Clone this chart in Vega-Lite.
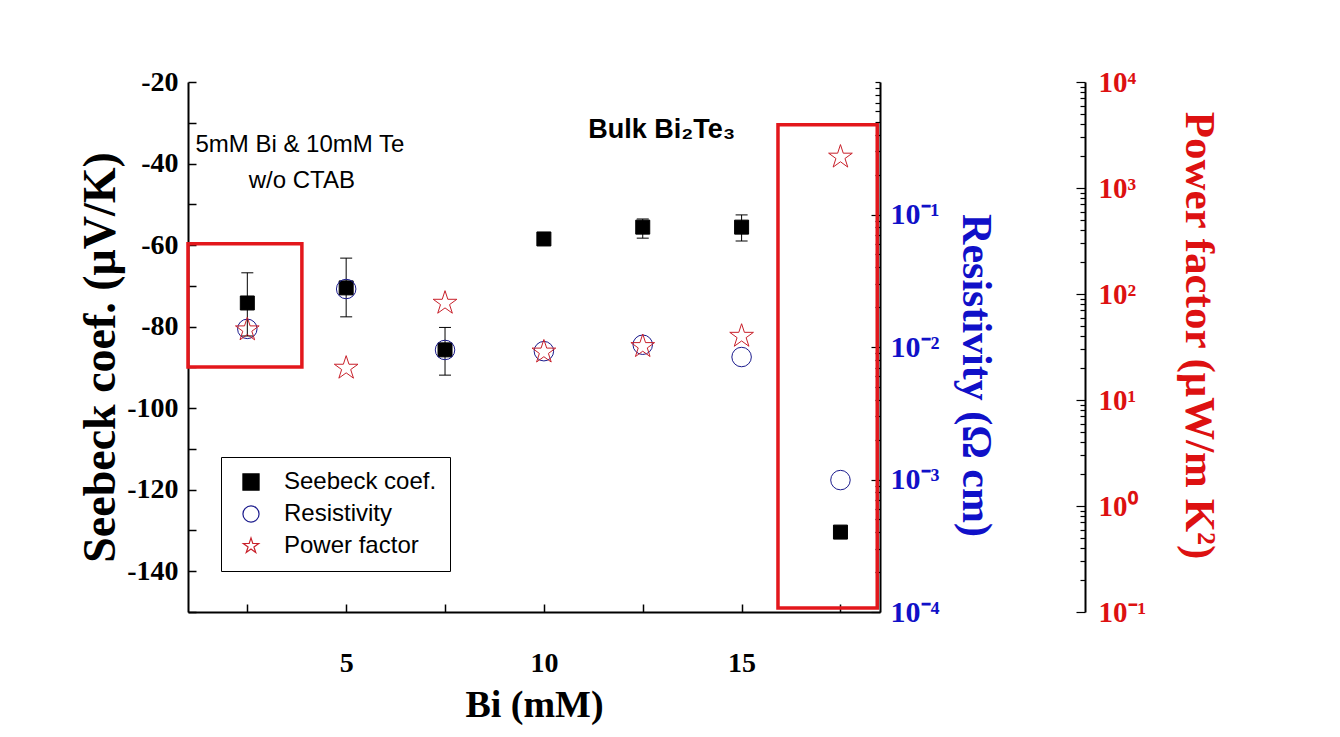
{
  "$schema": "https://vega.github.io/schema/vega-lite/v6.json",
  "width": 692,
  "height": 530,
  "autosize": {"type": "none"},
  "padding": {"left": 188, "top": 82, "right": 460, "bottom": 125},
  "background": "white",
  "config": {"view": {"stroke": null}, "axis": {"grid": false}},
  "datasets": {
    "main": [
      {"x": 2.5, "S": -74.2, "Slo": -82.3, "Shi": -66.8, "rho": 0.0137, "pf": 46},
      {"x": 5, "S": -70.5, "Slo": -77.6, "Shi": -63.2, "rho": 0.0274, "pf": 20},
      {"x": 7.5, "S": -85.7, "Slo": -91.9, "Shi": -80.2, "rho": 0.0095, "pf": 82},
      {"x": 10, "S": -58.5, "Slo": null, "Shi": null, "rho": 0.0093, "pf": 28.4},
      {"x": 12.5, "S": -55.6, "Slo": -58.3, "Shi": -53.6, "rho": 0.0104, "pf": 32},
      {"x": 15, "S": -55.6, "Slo": -59.0, "Shi": -52.6, "rho": 0.0084, "pf": 40},
      {"x": 17.5, "S": -130.4, "Slo": null, "Shi": null, "rho": 0.00099, "pf": 1960}
    ],
    "boxes": [
      {"x1": 1, "x2": 3.88, "y1": -59.7, "y2": -89.9},
      {"x1": 15.92, "x2": 18.43, "y1": -30.5, "y2": -149}
    ],
    "note1": [
      {"x": 3.83, "y": -35.5, "label": "5mM Bi & 10mM Te"},
      {"x": 3.88, "y": -44.3, "label": "w/o CTAB"}
    ],
    "note2": [
      {"x": 11.12, "y": -31.8, "label": "Bulk Bi₂Te₃"}
    ]
  },
  "data": {"name": "main"},
  "layer": [
    {
      "layer": [
        {
          "data": {"name": "boxes"},
          "mark": {"type": "rect", "fill": "transparent", "stroke": "#E3171C", "strokeWidth": 3.5},
          "encoding": {
            "x": {"field": "x1", "type": "quantitative", "title": "Bi (mM)", "scale": {"domain": [1, 18.5], "nice": false, "zero": false}},
            "x2": {"field": "x2"},
            "y": {"field": "y1", "type": "quantitative", "title": "Seebeck coef. (μV/K)", "scale": {"domain": [-150, -20], "nice": false, "zero": false}},
            "y2": {"field": "y2"}
          }
        },
        {
          "data": {"name": "note1"},
          "mark": {"type": "text", "font": "Liberation Sans", "fontSize": 24, "align": "center", "baseline": "middle", "color": "black"},
          "encoding": {
            "x": {"field": "x", "type": "quantitative", "title": "Bi (mM)", "scale": {"domain": [1, 18.5], "nice": false, "zero": false}},
            "y": {"field": "y", "type": "quantitative", "title": "Seebeck coef. (μV/K)", "scale": {"domain": [-150, -20], "nice": false, "zero": false}},
            "text": {"field": "label"}
          }
        },
        {
          "data": {"name": "note2"},
          "mark": {"type": "text", "font": "Liberation Sans", "fontWeight": "bold", "fontSize": 27, "align": "left", "baseline": "middle", "color": "black"},
          "encoding": {
            "x": {"field": "x", "type": "quantitative", "title": "Bi (mM)", "scale": {"domain": [1, 18.5], "nice": false, "zero": false}},
            "y": {"field": "y", "type": "quantitative", "title": "Seebeck coef. (μV/K)", "scale": {"domain": [-150, -20], "nice": false, "zero": false}},
            "text": {"field": "label"}
          }
        },
        {
          "mark": {"type": "rule", "color": "black", "strokeWidth": 1},
          "encoding": {
            "x": {"field": "x", "type": "quantitative", "title": "Bi (mM)", "scale": {"domain": [1, 18.5], "nice": false, "zero": false}},
            "y": {"field": "Slo", "type": "quantitative", "title": "Seebeck coef. (μV/K)", "scale": {"domain": [-150, -20], "nice": false, "zero": false}},
            "y2": {"field": "Shi"}
          }
        },
        {
          "mark": {"type": "tick", "orient": "horizontal", "size": 12, "thickness": 1, "color": "black", "opacity": 1},
          "encoding": {
            "x": {"field": "x", "type": "quantitative", "title": "Bi (mM)", "scale": {"domain": [1, 18.5], "nice": false, "zero": false}},
            "y": {"field": "Slo", "type": "quantitative", "title": "Seebeck coef. (μV/K)", "scale": {"domain": [-150, -20], "nice": false, "zero": false}}
          }
        },
        {
          "mark": {"type": "tick", "orient": "horizontal", "size": 12, "thickness": 1, "color": "black", "opacity": 1},
          "encoding": {
            "x": {"field": "x", "type": "quantitative", "title": "Bi (mM)", "scale": {"domain": [1, 18.5], "nice": false, "zero": false}},
            "y": {"field": "Shi", "type": "quantitative", "title": "Seebeck coef. (μV/K)", "scale": {"domain": [-150, -20], "nice": false, "zero": false}}
          }
        },
        {
          "mark": {"type": "point", "size": 196, "opacity": 1, "strokeWidth": 1},
          "encoding": {
            "x": {
              "field": "x", "type": "quantitative", "title": "Bi (mM)",
              "scale": {"domain": [1, 18.5], "nice": false, "zero": false},
              "axis": {
                "orient": "bottom",
                "values": [2.5, 5, 7.5, 10, 12.5, 15, 17.5],
                "labelExpr": "datum.value % 5 === 0 ? '' + datum.value : ''",
                "tickSize": -8, "tickWidth": 1.5, "tickColor": "black",
                "domainColor": "black", "domainWidth": 2,
                "labelFont": "Liberation Serif", "labelFontWeight": "bold", "labelFontSize": 28, "labelColor": "black",
                "labelPadding": 45, "labelFlush": false, "labelOverlap": false,
                "titleFont": "Liberation Serif", "titleFontWeight": "bold", "titleFontSize": 38, "titleColor": "black",
                "titlePadding": 9
              }
            },
            "y": {
              "field": "S", "type": "quantitative", "title": "Seebeck coef. (μV/K)",
              "scale": {"domain": [-150, -20], "nice": false, "zero": false},
              "axis": {
                "orient": "left",
                "values": [-150, -140, -130, -120, -110, -100, -90, -80, -70, -60, -50, -40, -30, -20],
                "labelExpr": "datum.value % 20 === 0 ? '' + datum.value : ''",
                "tickSize": -8, "tickWidth": 1.5, "tickColor": "black",
                "domainColor": "black", "domainWidth": 2,
                "labelFont": "Liberation Serif", "labelFontWeight": "bold", "labelFontSize": 28, "labelColor": "black",
                "labelPadding": 18, "labelFlush": false, "labelOverlap": false,
                "titleFont": "Liberation Serif", "titleFontWeight": "bold", "titleFontSize": 46, "titleColor": "black",
                "titleAngle": -90, "titleX": -88, "titleY": 275, "titleBaseline": "middle", "titleAlign": "center"
              }
            },
            "shape": {
              "datum": "Seebeck coef.", "type": "nominal",
              "scale": {"domain": ["Seebeck coef.", "Resistivity", "Power factor"], "range": ["square", "circle", "M0,-1L0.2245,-0.309L0.9511,-0.309L0.3633,0.118L0.5878,0.809L0,0.382L-0.5878,0.809L-0.3633,0.118L-0.9511,-0.309L-0.2245,-0.309Z"]},
              "legend": {
                "orient": "none", "legendX": 33, "legendY": 375, "title": null,
                "labelFont": "Liberation Sans", "labelFontSize": 24, "labelColor": "black", "labelLimit": 300,
                "symbolSize": 260, "symbolStrokeWidth": 1.2,
                "strokeColor": "black", "fillColor": "white",
                "padding": 13, "rowPadding": 8, "labelOffset": 21, "symbolOffset": 5
              }
            },
            "fill": {
              "datum": "Seebeck coef.", "type": "nominal",
              "scale": {"domain": ["Seebeck coef.", "Resistivity", "Power factor"], "range": ["black", "transparent", "transparent"]}
            },
            "stroke": {
              "datum": "Seebeck coef.", "type": "nominal",
              "scale": {"domain": ["Seebeck coef.", "Resistivity", "Power factor"], "range": ["black", "#1A1A8C", "#C8202A"]}
            }
          }
        }
      ]
    },
    {
      "mark": {"type": "point", "size": 380, "opacity": 1, "strokeWidth": 1},
      "encoding": {
        "x": {"field": "x", "type": "quantitative", "title": "Bi (mM)", "scale": {"domain": [1, 18.5], "nice": false, "zero": false}},
        "y": {
          "field": "rho", "type": "quantitative", "title": "Resistivity (Ω cm)",
          "scale": {"type": "log", "domain": [0.0001, 1], "nice": false},
          "axis": {
            "orient": "right",
            "values": [0.0001, 0.0002, 0.0003, 0.0004, 0.0005, 0.0006, 0.0007, 0.0008, 0.0009, 0.001, 0.002, 0.003, 0.004, 0.005, 0.006, 0.007, 0.008, 0.009, 0.01, 0.02, 0.03, 0.04, 0.05, 0.06, 0.07, 0.08, 0.09, 0.1, 0.2, 0.3, 0.4, 0.5, 0.6, 0.7, 0.8, 0.9, 1],
            "labelExpr": "datum.value == 0.1 ? '10⁻¹' : datum.value == 0.01 ? '10⁻²' : datum.value == 0.001 ? '10⁻³' : datum.value == 0.0001 ? '10⁻⁴' : ''",
            "tickSize": {"condition": {"test": "datum.value == 0.1 || datum.value == 0.01 || datum.value == 0.001 || datum.value == 0.0001", "value": -9}, "value": -5},
            "tickWidth": 1.2, "tickColor": "black",
            "domainColor": "black", "domainWidth": 2,
            "labelFont": "Liberation Serif", "labelFontWeight": "bold", "labelFontSize": 30, "labelColor": "#1010C8",
            "labelPadding": 19, "labelFlush": false, "labelOverlap": false,
            "titleFont": "Liberation Serif", "titleFontWeight": "bold", "titleFontSize": 42, "titleColor": "#1010C8",
            "titleAngle": 90, "titleX": 95, "titleY": 293, "titleBaseline": "middle", "titleAlign": "center"
          }
        },
        "shape": {"datum": "Resistivity", "type": "nominal", "scale": {"domain": ["Seebeck coef.", "Resistivity", "Power factor"], "range": ["square", "circle", "M0,-1L0.2245,-0.309L0.9511,-0.309L0.3633,0.118L0.5878,0.809L0,0.382L-0.5878,0.809L-0.3633,0.118L-0.9511,-0.309L-0.2245,-0.309Z"]}},
        "fill": {"datum": "Resistivity", "type": "nominal", "scale": {"domain": ["Seebeck coef.", "Resistivity", "Power factor"], "range": ["black", "transparent", "transparent"]}},
        "stroke": {"datum": "Resistivity", "type": "nominal", "scale": {"domain": ["Seebeck coef.", "Resistivity", "Power factor"], "range": ["black", "#1A1A8C", "#C8202A"]}}
      }
    },
    {
      "mark": {"type": "point", "size": 620, "opacity": 1, "strokeWidth": 1},
      "encoding": {
        "x": {"field": "x", "type": "quantitative", "title": "Bi (mM)", "scale": {"domain": [1, 18.5], "nice": false, "zero": false}},
        "y": {
          "field": "pf", "type": "quantitative", "title": "Power factor (μW/m K²)",
          "scale": {"type": "log", "domain": [0.1, 10000], "nice": false},
          "axis": {
            "orient": "right", "offset": 205,
            "values": [0.1, 0.2, 0.3, 0.4, 0.5, 0.6, 0.7, 0.8, 0.9, 1, 2, 3, 4, 5, 6, 7, 8, 9, 10, 20, 30, 40, 50, 60, 70, 80, 90, 100, 200, 300, 400, 500, 600, 700, 800, 900, 1000, 2000, 3000, 4000, 5000, 6000, 7000, 8000, 9000, 10000],
            "labelExpr": "datum.value == 0.1 ? '10⁻¹' : datum.value == 1 ? '10⁰' : datum.value == 10 ? '10¹' : datum.value == 100 ? '10²' : datum.value == 1000 ? '10³' : datum.value == 10000 ? '10⁴' : ''",
            "tickSize": {"condition": {"test": "datum.value == 0.1 || datum.value == 1 || datum.value == 10 || datum.value == 100 || datum.value == 1000 || datum.value == 10000", "value": -9}, "value": -5},
            "tickWidth": 1.2, "tickColor": "black",
            "domainColor": "black", "domainWidth": 2,
            "labelFont": "Liberation Serif", "labelFontWeight": "bold", "labelFontSize": 29, "labelColor": "#DD1111",
            "labelPadding": 22, "labelFlush": false, "labelOverlap": false,
            "titleFont": "Liberation Serif", "titleFontWeight": "bold", "titleFontSize": 43, "titleColor": "#DD1111",
            "titleAngle": 90, "titleX": 113, "titleY": 253, "titleBaseline": "middle", "titleAlign": "center"
          }
        },
        "shape": {"datum": "Power factor", "type": "nominal", "scale": {"domain": ["Seebeck coef.", "Resistivity", "Power factor"], "range": ["square", "circle", "M0,-1L0.2245,-0.309L0.9511,-0.309L0.3633,0.118L0.5878,0.809L0,0.382L-0.5878,0.809L-0.3633,0.118L-0.9511,-0.309L-0.2245,-0.309Z"]}},
        "fill": {"datum": "Power factor", "type": "nominal", "scale": {"domain": ["Seebeck coef.", "Resistivity", "Power factor"], "range": ["black", "transparent", "transparent"]}},
        "stroke": {"datum": "Power factor", "type": "nominal", "scale": {"domain": ["Seebeck coef.", "Resistivity", "Power factor"], "range": ["black", "#1A1A8C", "#C8202A"]}}
      }
    }
  ],
  "resolve": {"scale": {"y": "independent"}}
}
